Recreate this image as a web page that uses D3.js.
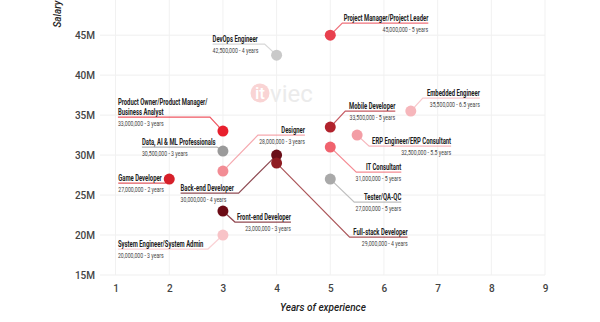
<!DOCTYPE html>
<html>
<head>
<meta charset="utf-8">
<script src="https://cdn.jsdelivr.net/npm/d3@7"></script>
<style>
  html, body { margin: 0; padding: 0; background: #fff; }
  svg { display: block; }
  .tick-label { font-family: Roboto, "Noto Sans", sans-serif; font-weight: 500; fill: #444; }
  .axis-title { font-family: Roboto, "Noto Sans", sans-serif; font-style: italic; font-weight: 500; fill: #222; }
  .job-title { font-family: Roboto, sans-serif; font-weight: bold; fill: #222; }
  .job-sub { font-family: Roboto, sans-serif; fill: #444; }
</style>
</head>
<body>
<svg id="chart" width="600" height="322"></svg>
<script>
// Average salary (million VND) by role and years of experience
const jobs = [
  "DevOps Engineer",
  "Project Manager/Project Leader",
  "Product Owner/Product Manager/\nBusiness Analyst",
  "Data, AI & ML Professionals",
  "Designer",
  "Back-end Developer",
  "Full-stack Developer",
  "Game Developer",
  "Front-end Developer",
  "System Engineer/System Admin",
  "Mobile Developer",
  "Embedded Engineer",
  "ERP Engineer/ERP Consultant",
  "IT Consultant",
  "Tester/QA-QC"
];
const years = [4, 5, 3, 3, 3, 4, 4, 2, 3, 3, 5, 6.5, 5.5, 5, 5];
const salaries = [42.5, 45, 33, 30.5, 28, 30, 29, 27, 23, 20, 33.5, 35.5, 32.5, 31, 27];

const xTicks = [1, 2, 3, 4, 5, 6, 7, 8, 9];
const yTicks = [15, 20, 25, 30, 35, 40, 45];

// Dot colours per role
const colors = [
  "#c9c9c9", "#e8404e", "#e81f2d", "#9a9a9a", "#f28c94",
  "#6a0f19", "#8f1c22", "#d6202a", "#6c0b15", "#f8c3c7",
  "#b1222c", "#f6b6bb", "#f39da5", "#f0636e", "#a9a9a9"
];

// Callout placement: elbow offset from the dot (px), run length of the
// horizontal leader and which way it runs
const callouts = [
  { dx: -12, dy: -11, run: 52, side: "left" },
  { dx: 12, dy: -12, run: 86, side: "right" },
  { dx: -13, dy: -14, run: 92, side: "left" },
  { dx: -6, dy: -4, run: 75, side: "left" },
  { dx: 35, dy: -36, run: 47, side: "right" },
  { dx: -38, dy: 38, run: 58, side: "left" },
  { dx: 73, dy: 74, run: 58, side: "right" },
  { dx: -4, dy: 4, run: 47, side: "left" },
  { dx: 12, dy: 11, run: 56, side: "right" },
  { dx: -15, dy: 14, run: 90, side: "left" },
  { dx: 15, dy: -16, run: 50, side: "right" },
  { dx: 12, dy: -13, run: 57, side: "right" },
  { dx: 12, dy: 11, run: 82, side: "right" },
  { dx: 26, dy: 25, run: 45, side: "right" },
  { dx: 24, dy: 23, run: 47, side: "right" }
];

const svg = d3.select("#chart");

const x = d3.scaleLinear().domain([0.71, 9]).range([100, 545]);
const y = d3.scaleLinear().domain([15, 49.4]).range([275, 0]);

// Grid
const grid = svg.append("g");
grid.selectAll("line.h").data(yTicks).join("line")
  .attr("x1", x.range()[0]).attr("x2", x.range()[1])
  .attr("y1", d => y(d)).attr("y2", d => y(d))
  .attr("stroke", "#efefef").attr("stroke-width", 1);
grid.selectAll("line.v").data(xTicks).join("line")
  .attr("x1", d => x(d)).attr("x2", d => x(d))
  .attr("y1", y(y.domain()[1])).attr("y2", y(15))
  .attr("stroke", "#f1f1f1").attr("stroke-width", 1);

// Axes (labels only, no domain lines)
const yAxis = d3.axisLeft(y).tickValues(yTicks).tickSize(0).tickPadding(5)
  .tickFormat(d => d + "M");
svg.append("g").attr("transform", `translate(${x.range()[0]},0)`).call(yAxis)
  .call(g => g.select(".domain").remove())
  .call(g => g.selectAll("text").attr("class", "tick-label").attr("font-size", 10).attr("fill", "#444"));

const xAxis = d3.axisBottom(x).tickValues(xTicks).tickSize(0).tickPadding(10)
  .tickFormat(d3.format("d"));
svg.append("g").attr("transform", `translate(0,${y(15)})`).call(xAxis)
  .call(g => g.select(".domain").remove())
  .call(g => g.selectAll("text").attr("class", "tick-label").attr("font-size", 10).attr("fill", "#444"));

svg.append("text").attr("class", "axis-title")
  .attr("x", 323).attr("y", 311).attr("text-anchor", "middle")
  .attr("font-size", 10).text("Years of experience");
svg.append("text").attr("class", "axis-title")
  .attr("transform", "translate(61,14) rotate(-90)").attr("text-anchor", "middle")
  .attr("font-size", 10).text("Salary");

// Watermark
const wm = svg.append("g");
wm.append("circle").attr("cx", 260).attr("cy", 93).attr("r", 9.5).attr("fill", "#f9d4d4");
wm.append("text").attr("x", 260).attr("y", 99).attr("text-anchor", "middle")
  .attr("font-family", "Roboto, sans-serif").attr("font-weight", 500)
  .attr("font-size", 17).attr("fill", "#fff").text("it");
wm.append("text").attr("x", 270).attr("y", 102)
  .attr("font-family", "Roboto, sans-serif").attr("font-size", 24)
  .attr("fill", "#ebebeb").text("viec");

// Build data rows
const rows = jobs.map((name, i) => {
  const px = x(years[i]), py = y(salaries[i]);
  const c = callouts[i];
  const ex = px + c.dx, ey = py + c.dy;
  const endX = c.side === "left" ? ex - c.run : ex + c.run;
  return { name, years: years[i], salary: salaries[i], color: colors[i], px, py, ex, ey, endX, side: c.side };
});

// Leader lines
svg.append("g").selectAll("polyline").data(rows).join("polyline")
  .attr("points", d => `${d.px},${d.py} ${d.ex},${d.ey} ${d.endX},${d.ey}`)
  .attr("fill", "none")
  .attr("stroke", d => d.color)
  .attr("stroke-opacity", 0.75)
  .attr("stroke-width", 1.2);

// Dots
svg.append("g").selectAll("circle").data(rows).join("circle")
  .attr("cx", d => d.px).attr("cy", d => d.py).attr("r", 5.5)
  .attr("fill", d => d.color);

// Callout text, horizontally condensed
const fmt = d3.format(",");
const labels = svg.append("g").selectAll("g").data(rows).join("g");
labels.each(function(d) {
  const g = d3.select(this);
  const anchor = d.side === "left" ? "start" : "end";
  const lines = d.name.split("\n");
  lines.forEach((ln, k) => {
    const ty = d.ey - 2.5 - (lines.length - 1 - k) * 9.6;
    g.append("text").attr("class", "job-title")
      .attr("transform", `translate(${d.endX},${ty}) scale(0.72,1)`)
      .attr("text-anchor", anchor)
      .attr("font-size", 8.2)
      .text(ln);
  });
  g.append("text").attr("class", "job-sub")
    .attr("transform", `translate(${d.endX},${d.ey + 8.5}) scale(0.82,1)`)
    .attr("text-anchor", anchor)
    .attr("font-size", 6.3)
    .text(`${fmt(Math.round(d.salary * 1e6))} - ${d.years} years`);
});
</script>
</body>
</html>
